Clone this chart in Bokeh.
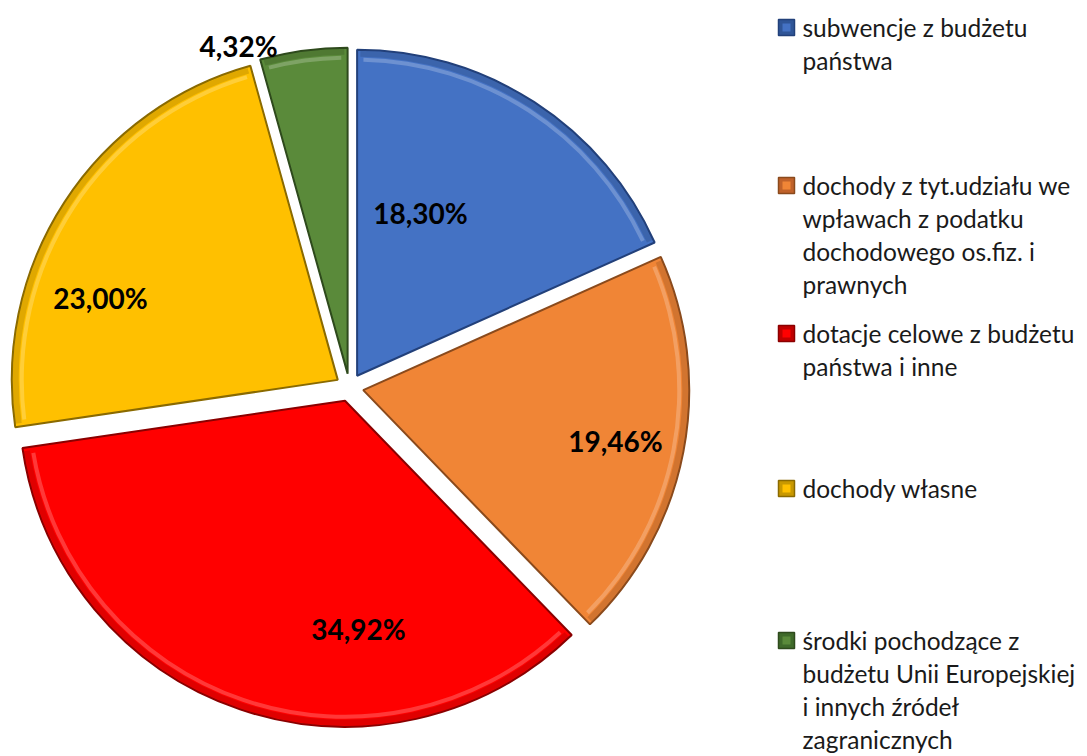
import math
from bokeh.plotting import figure
from bokeh.models import Range1d
from bokeh.embed import file_html
from bokeh.resources import INLINE
from bokeh.core.properties import value

# ---- data ----
categories = [
    "subwencje z budżetu państwa",
    "dochody z tyt.udziału we wpławach z podatku dochodowego os.fiz. i prawnych",
    "dotacje celowe z budżetu państwa i inne",
    "dochody własne",
    "środki pochodzące z budżetu Unii Europejskiej i innych źródeł zagranicznych",
]
shares = [18.30, 19.46, 34.92, 23.00, 4.32]
share_labels = ["18,30%", "19,46%", "34,92%", "23,00%", "4,32%"]
legend_lines = [
    ["subwencje z budżetu", "państwa"],
    ["dochody z tyt.udziału we", "wpławach z podatku", "dochodowego os.fiz. i", "prawnych"],
    ["dotacje celowe z budżetu", "państwa i inne"],
    ["dochody własne"],
    ["środki pochodzące z", "budżetu Unii Europejskiej", "i innych źródeł", "zagranicznych"],
]

# ---- styles / layout ----
colors = ["#4472C4", "#F08536", "#FF0000", "#FFC000", "#5A8A3A"]
dark = ["#22407A", "#8A4A1C", "#8A0000", "#8A6A00", "#2E4A1C"]
sq_colors = ["#2F5597", "#C0622A", "#C00000", "#C89800", "#3F6A2A"]
W, H = 1087, 756
CX, CY, R, EXPLODE = 349, 369, 326, 14
label_xy = [(420, 544), (615, 316), (358, 128), (100, 459), (238, 711)]
legend_x = 802
legend_sq_x = 778
legend_first_y = [729, 571, 423, 268, 116]
line_step = 33

p = figure(width=W, height=H, output_backend="svg", toolbar_location=None,
           x_range=Range1d(0, W), y_range=Range1d(0, H), min_border=0)
p.axis.visible = False
p.grid.visible = False
p.outline_line_color = None
p.background_fill_color = "white"

total = sum(shares)
cum = 0.0
for i, s in enumerate(shares):
    t0 = 2 * math.pi * cum / total
    t1 = 2 * math.pi * (cum + s) / total
    cum += s
    mid = (t0 + t1) / 2
    x = CX + EXPLODE * math.sin(mid)
    y = CY + EXPLODE * math.cos(mid)
    a0 = math.pi / 2 - t0
    a1 = math.pi / 2 - t1
    # main slice
    p.wedge(x=x, y=y, radius=R, start_angle=a0, end_angle=a1, direction="clock",
            fill_color=colors[i], line_color=dark[i], line_width=2)
    # bevel: dark inner band near rim
    p.annular_wedge(x=x, y=y, inner_radius=R - 7, outer_radius=R - 1,
                    start_angle=a0 - 0.01, end_angle=a1 + 0.01, direction="clock",
                    fill_color="black", fill_alpha=0.12, line_color=None)
    # bevel: highlight band
    p.annular_wedge(x=x, y=y, inner_radius=R - 12, outer_radius=R - 8,
                    start_angle=a0 - 0.02, end_angle=a1 + 0.02, direction="clock",
                    fill_color="white", fill_alpha=0.22, line_color=None)

# percentage labels
p.text(x=[xy[0] for xy in label_xy], y=[xy[1] for xy in label_xy], text=share_labels,
       text_font=value("Lato"), text_font_style="bold", text_font_size="28px",
       text_color="black", text_align="center", text_baseline="middle")

# legend
for i, lines in enumerate(legend_lines):
    y0 = legend_first_y[i]
    p.rect(x=legend_sq_x + 8, y=y0, width=16, height=16,
           fill_color=sq_colors[i], line_color=dark[i], line_width=1.5)
    p.rect(x=legend_sq_x + 8, y=y0, width=8, height=8,
           fill_color=colors[i], line_color=None)
    ys = [y0 - k * line_step for k in range(len(lines))]
    p.text(x=[legend_x] * len(lines), y=ys, text=lines,
           text_font=value("Lato"), text_font_size="24.5px", text_color="#1a1a1a",
           text_align="left", text_baseline="middle")

open("out.html", "w").write(file_html(p, INLINE))
